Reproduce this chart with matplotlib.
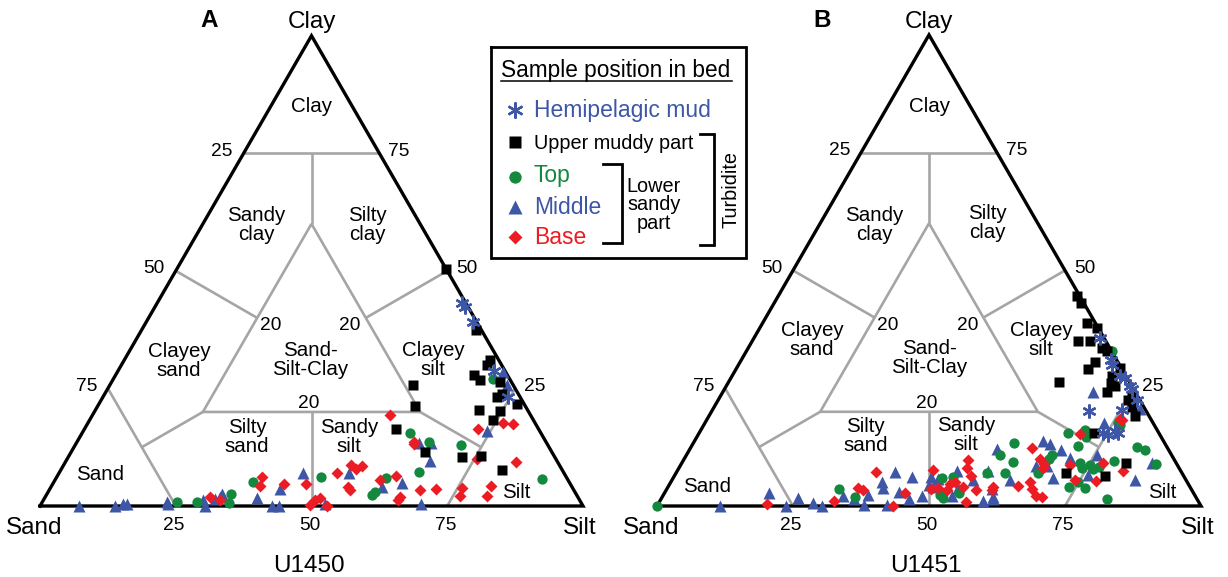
import numpy as np
import matplotlib
matplotlib.use("Agg")
import matplotlib.pyplot as plt

plt.rcParams['font.family'] = ['Liberation Sans', 'DejaVu Sans']

# ---------------- data: (silt %, clay %); sand = 100 - silt - clay ----------------
# Site U1450 (panel A)
a_hemi_silt = [56.1, 57.1, 60.2, 69.3, 74.6]
a_hemi_clay = [43.1, 42.4, 39.2, 28.7, 23.2]

a_upper_silt = [49.5, 61.6, 67.4, 67.3, 65.9, 67.6, 71.5, 72.5, 77.0, 70.7, 74.7, 74.3,
                58.4, 57.4, 65.2, 72.4, 76.0, 81.2, 73.2, 55.9]
a_upper_clay = [50.5, 37.4, 31.0, 30.0, 27.9, 26.8, 26.4, 23.2, 21.6, 20.4, 20.1, 18.3,
                21.3, 16.4, 11.4, 10.5, 10.6, 7.7, 23.8, 25.7]

a_top_silt = [24.7, 28.4, 33.9, 34.5, 36.7, 48.6, 60.0, 60.2, 60.7, 60.4, 64.7, 66.1,
              71.0, 89.6, 69.8]
a_top_clay = [0.9, 0.9, 2.5, 0.7, 5.2, 6.2, 2.3, 3.0, 6.0, 15.5, 13.7, 7.3,
              13.0, 5.7, 27.1]

a_mid_silt = [7.1, 13.8, 15.1, 15.9, 23.3, 22.9, 29.4, 30.4, 31.5, 32.1, 32.3, 39.1,
              42.4, 42.8, 44.1, 45.0, 52.3, 53.3, 60.9, 64.2, 69.9, 63.1, 65.4, 67.0,
              74.4, 71.0, 73.2]
a_mid_clay = [0.0, 0.0, 0.4, 0.4, 0.4, 0.9, 1.3, 0.0, 1.4, 2.0, 2.6, 1.6,
              3.6, 0.0, 0.0, 7.0, 0.4, 7.1, 4.0, 4.8, 0.4, 13.3, 13.3, 9.6,
              16.0, 28.6, 25.7]

a_base_silt = [30.3, 32.5, 37.8, 38.3, 42.7, 46.6, 49.6, 50.0, 50.8, 52.8, 51.1, 52.9,
               55.0, 54.3, 54.8, 55.4, 59.8, 54.8, 62.3, 72.5, 76.4, 78.4, 75.5, 83.0,
               80.9, 81.2, 75.9, 76.2, 71.1, 68.2, 65.3, 65.3, 62.4, 62.1]
a_base_clay = [2.0, 1.3, 6.1, 4.3, 4.6, 4.7, 0.2, 1.3, 1.6, 0.0, 7.1, 8.7,
               8.5, 7.9, 4.0, 3.3, 5.5, 19.3, 13.2, 16.3, 17.7, 17.4, 10.1, 9.4,
               4.3, 2.2, 3.8, 2.2, 3.6, 3.4, 2.0, 1.3, 6.4, 13.7]

# Site U1451 (panel B)
b_hemi_silt = [63.6, 67.9, 68.6, 71.4, 72.4, 74.2, 75.0, 77.1, 75.2, 69.4, 74.3, 75.4, 76.2, 77.0]
b_hemi_clay = [35.7, 31.0, 30.0, 27.5, 27.2, 25.5, 24.8, 22.4, 20.4, 20.2, 15.5, 15.1, 16.0, 15.5]

b_upper_silt = [54.9, 56.4, 59.7, 61.9, 59.9, 62.1, 65.0, 66.3, 65.3, 64.7, 60.8, 69.9,
                71.5, 70.6, 70.4, 70.5, 75.4, 76.8, 78.3, 75.5, 72.6, 81.7, 79.2, 71.7]
b_upper_clay = [44.5, 43.0, 38.8, 37.8, 35.1, 35.1, 33.5, 32.8, 30.5, 29.1, 26.3, 27.5,
                25.4, 24.3, 26.1, 29.3, 22.5, 21.1, 19.1, 23.6, 15.5, 9.2, 6.4, 7.1]

b_top_silt = [0.0, 31.7, 35.4, 49.4, 51.4, 50.9, 51.8, 54.2, 57.1, 58.9, 60.7, 57.7,
              60.5, 67.2, 67.2, 66.6, 67.8, 71.5, 70.9, 73.2, 74.1, 75.3, 76.3, 77.2,
              79.2, 73.6, 74.9, 76.8, 82.0, 81.9, 83.8, 87.3, 76.5, 76.0, 67.2, 70.6]
b_top_clay = [0.0, 3.6, 2.0, 5.9, 6.2, 2.3, 1.6, 2.8, 7.1, 13.3, 9.4, 10.8,
              7.0, 10.8, 9.9, 7.0, 15.6, 14.7, 12.8, 9.1, 8.0, 8.7, 7.8, 8.2,
              9.6, 4.1, 5.0, 3.8, 1.4, 12.5, 11.9, 8.9, 17.2, 17.6, 32.8, 16.2]

b_mid_silt = [11.5, 19.2, 23.8, 25.2, 28.4, 30.3, 33.2, 35.4, 37.9, 37.7, 38.8, 39.7,
              40.1, 42.2, 42.9, 43.7, 45.7, 47.6, 47.8, 48.8, 47.4, 48.8, 51.4, 53.5,
              53.2, 55.4, 59.3, 61.1, 59.7, 57.1, 56.4, 60.8, 62.1, 64.1, 65.6, 68.3,
              65.5, 67.5, 69.9, 70.9, 75.4, 76.0, 73.4, 85.1, 86.4, 68.0, 78.5]
b_mid_clay = [0.0, 2.8, 0.0, 1.6, 0.7, 0.0, 2.1, 1.5, 0.3, 2.3, 5.0, 3.8,
              7.3, 0.2, 3.0, 6.2, 1.4, 2.1, 4.5, 4.0, 6.1, 5.7, 7.5, 3.8,
              2.1, 5.5, 1.1, 1.4, 3.6, 7.5, 12.1, 2.0, 5.5, 13.7, 13.2, 11.8,
              8.5, 8.5, 5.9, 10.1, 10.8, 6.6, 17.6, 5.5, 9.1, 24.3, 20.6]

b_base_silt = [20.0, 32.0, 35.1, 36.2, 36.6, 43.3, 44.2, 46.9, 48.6, 49.8, 51.6, 51.6,
               52.2, 52.3, 52.9, 54.6, 54.2, 56.9, 56.4, 59.7, 59.8, 62.8, 65.4, 66.7,
               66.9, 64.3, 66.1, 67.1, 68.7, 69.8, 71.6, 74.1, 70.1, 77.5, 82.0, 78.0,
               75.9, 76.3]
b_base_clay = [0.4, 1.1, 3.8, 3.4, 7.3, 0.0, 2.8, 7.7, 3.6, 3.8, 3.4, 4.7,
               5.2, 9.8, 8.0, 6.4, 4.1, 3.4, 0.9, 4.0, 3.4, 12.3, 9.9, 8.9,
               8.0, 4.3, 5.0, 3.6, 2.1, 1.9, 8.7, 5.5, 15.3, 9.1, 7.4, 5.4,
               18.4, 18.3]

tick_values = [25, 50, 75]
region_names = ["Clay", "Sandy\nclay", "Silty\nclay", "Clayey\nsand", "Sand-\nSilt-Clay",
                "Clayey\nsilt", "Silty\nsand", "Sandy\nsilt", "Sand", "Silt"]

# ---------------- styling ----------------
BLUE = '#3D56A6'
GREEN = '#14883E'
RED = '#EC1C24'
GRAY = '#A5A5A5'
PX = 0.72  # points per pixel at 100 dpi

FIG_W, FIG_H = 1228, 577
BASE = 506
SQ3 = np.sqrt(3) / 2

fig = plt.figure(figsize=(FIG_W / 100, FIG_H / 100), dpi=100)


def tern(silt, clay):
    silt = np.asarray(silt, float) / 100.0
    clay = np.asarray(clay, float) / 100.0
    return silt + clay / 2.0, clay * SQ3


series_style = [
    # key, marker, color, size, zorder
    ('mid', '^', BLUE, 8.4, 4),
    ('top', 'o', GREEN, 7.4, 5),
    ('base', 'D', RED, 6.1, 6),
    ('upper', 's', 'black', 7.0, 7),
    ('hemi', (6, 2, 0), BLUE, 10.0, 8),
]


def draw_panel(x_left, x_right, x0, side, data, labels_px, letter, letter_px, site):
    ax = fig.add_axes([x_left / FIG_W, 0, (x_right - x_left) / FIG_W, 1])
    ax.set_xlim(-(x0 - x_left) / side, (x_right - x0) / side)
    ax.set_ylim(-(FIG_H - BASE) / side, BASE / side)
    ax.axis('off')

    def loc(px, py):
        return (px - x0) / side, (BASE - py) / side

    # classification boundaries (gray)
    segs = [
        [(25, 0, 75), (0, 25, 75)],
        [(12.5, 12.5, 75), (20, 20, 60)],
        [(20, 20, 60), (60, 20, 20), (20, 60, 20), (20, 20, 60)],
        [(50, 0, 50), (40, 20, 40)],
        [(0, 50, 50), (20, 40, 40)],
        [(50, 50, 0), (40, 40, 20)],
        [(60, 20, 20), (75, 12.5, 12.5)],
        [(20, 60, 20), (12.5, 75, 12.5)],
        [(75, 0, 25), (75, 25, 0)],
        [(0, 75, 25), (25, 75, 0)],
    ]
    for seg in segs:
        sa, si, cl = zip(*seg)
        xs, ys = tern(si, cl)
        ax.plot(xs, ys, color=GRAY, lw=1.9, solid_capstyle='butt', zorder=1)

    # outline
    xs, ys = tern([0, 100, 0, 0], [0, 0, 100, 0])
    ax.plot(xs, ys, color='black', lw=2.4, solid_joinstyle='miter', zorder=3)

    # region labels
    for name, (px, py) in zip(region_names, labels_px):
        lx, ly = loc(px, py)
        ax.text(lx, ly, name, ha='center', va='center', fontsize=14.8,
                linespacing=0.98, zorder=2)

    # tick labels
    for v in tick_values:
        bx, by = tern(v, 0)
        ax.annotate(str(v), (bx, by), xytext=(-2 * PX, -20 * PX), textcoords='offset points',
                    ha='center', va='center', fontsize=13.8)
        lx, ly = tern(0, 100 - v)
        ax.annotate(str(v), (lx, ly), xytext=(-21.5 * PX, 2 * PX), textcoords='offset points',
                    ha='center', va='center', fontsize=13.8)
        rx, ry = tern(100 - v, v)
        ax.annotate(str(v), (rx, ry), xytext=(19.5 * PX, 2 * PX), textcoords='offset points',
                    ha='center', va='center', fontsize=13.8)

    # "20" labels of central triangle
    for (sa, si, cl), off in [((40, 20, 40), (13, -8)), ((20, 40, 40), (-16, -8)),
                              ((40, 40, 20), (-2.5, 8.5))]:
        x, y = tern(si, cl)
        ax.annotate("20", (x, y), xytext=(off[0] * PX, off[1] * PX), textcoords='offset points',
                    ha='center', va='center', fontsize=13.8)

    # data
    for key, marker, color, ms, z in series_style:
        silt, clay = data[key]
        xs, ys = tern(silt, clay)
        if key == 'hemi':
            ax.plot(xs, ys, ls='none', marker=marker, ms=ms, mew=1.7, color=color, zorder=z)
        else:
            ax.plot(xs, ys, ls='none', marker=marker, ms=ms, mec='none', mfc=color, zorder=z)

    # vertex labels
    cx, cy = loc(x0 + side / 2, 28.3)
    ax.text(cx, cy, "Clay", ha='center', va='baseline', fontsize=17.5)
    sx, sy = loc(x0 - 6, 534)
    ax.text(sx, sy, "Sand", ha='center', va='baseline', fontsize=17.5)
    tx, ty = loc(x0 + side - 3, 534)
    ax.text(tx, ty, "Silt", ha='center', va='baseline', fontsize=17.5)
    ux, uy = loc(x0 + side / 2 - 3, 571.5)
    ax.text(ux, uy, site, ha='center', va='baseline', fontsize=17.5)
    ax.text(*loc(*letter_px), letter, ha='center', va='baseline', fontsize=17.5,
            fontweight='bold')
    return ax


labels_a = [(311, 107), (256, 225), (367.5, 225), (179, 361), (310, 360), (433, 360),
            (247, 437), (349, 437), (100, 474), (516, 493)]
labels_b = [(929, 107), (874, 225), (987, 223), (812, 340), (929, 358), (1041, 340),
            (865.5, 436), (966, 435), (707, 487), (1162, 492)]

data_a = {'hemi': (a_hemi_silt, a_hemi_clay), 'upper': (a_upper_silt, a_upper_clay),
          'top': (a_top_silt, a_top_clay), 'mid': (a_mid_silt, a_mid_clay),
          'base': (a_base_silt, a_base_clay)}
data_b = {'hemi': (b_hemi_silt, b_hemi_clay), 'upper': (b_upper_silt, b_upper_clay),
          'top': (b_top_silt, b_top_clay), 'mid': (b_mid_silt, b_mid_clay),
          'base': (b_base_silt, b_base_clay)}

draw_panel(0, 614, 40, 543, data_a, labels_a, "A", (209.5, 26.7), "U1450")
draw_panel(614, 1228, 657, 544, data_b, labels_b, "B", (821.7, 26.7), "U1451")

# ---------------- legend (pixel coordinates) ----------------
axl = fig.add_axes([0, 0, 1, 1])
axl.set_xlim(0, FIG_W)
axl.set_ylim(FIG_H, 0)
axl.axis('off')
axl.patch.set_alpha(0)

axl.plot([491, 746, 746, 491, 491], [47, 47, 258, 258, 47], color='black', lw=2.0,
         solid_joinstyle='miter')
axl.text(616, 76.7, "Sample position in bed", ha='center', va='baseline', fontsize=16.3)
axl.plot([501, 732], [80.5, 80.5], color='black', lw=1.1)

legend_rows = [
    ('hemi', "Hemipelagic mud", BLUE, 117.3, 110, 16.5),
    ('upper', "Upper muddy part", 'black', 149.3, 142, 14.3),
    ('top', "Top", GREEN, 181.7, 176.5, 16.5),
    ('mid', "Middle", BLUE, 214, 206.5, 16.5),
    ('base', "Base", RED, 244, 237, 16.5),
]
style_map = {k: (m, c, s) for k, m, c, s, z in series_style}
for key, text, tcolor, base_y, my, fs in legend_rows:
    m, c, s = style_map[key]
    if key == 'hemi':
        axl.plot([515], [my], ls='none', marker=m, ms=s * 1.15, mew=1.7, color=c)
    else:
        axl.plot([515], [my], ls='none', marker=m, ms=s * 1.2, mec='none', mfc=c)
    axl.text(534, base_y, text, ha='left', va='baseline', fontsize=fs, color=tcolor)

# brackets
axl.plot([603, 622, 622, 603], [164, 164, 243, 243], color='black', lw=2.0,
         solid_joinstyle='miter')
axl.plot([700, 714, 714, 700], [134, 134, 245, 245], color='black', lw=2.0,
         solid_joinstyle='miter')
axl.text(654, 205, "Lower\nsandy\npart", ha='center', va='center', fontsize=14.3,
         linespacing=0.95)
axl.text(731, 190, "Turbidite", ha='center', va='center', fontsize=14.3, rotation=90)

fig.savefig("out.png", dpi=100)
